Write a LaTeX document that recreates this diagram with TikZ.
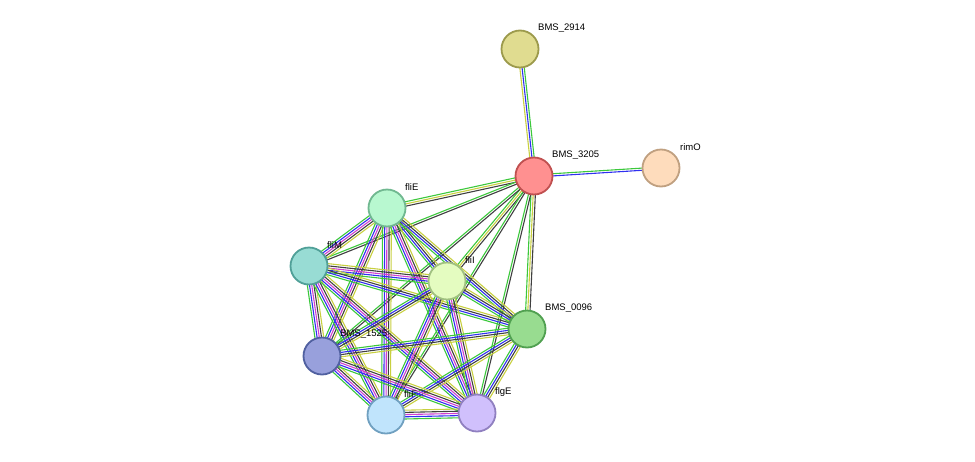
\documentclass[tikz,border=0pt]{standalone}
\usepackage{fontspec}
\setmainfont{Liberation Sans}
\usetikzlibrary{calc}
\definecolor{eg}{HTML}{3CC83C}
\definecolor{eb}{HTML}{3030F0}
\definecolor{em}{HTML}{D040D0}
\definecolor{ek}{HTML}{404040}
\definecolor{ey}{HTML}{C8D040}
\tikzset{
  prot/.style={circle,draw,line width=1.8pt,minimum size=37pt,inner sep=0pt},
  lab/.style={anchor=west,inner sep=0pt,font=\fontsize{9.5}{11}\selectfont},
}
\newcommand{\E}[3]{\foreach \o/\c in {#3}{\draw[\c,line width=1.1pt] ($(#1)!\o pt!90:(#2)$) -- ($(#2)!\o pt!-90:(#1)$);}}
\newcommand{\Full}[2]{\E{#1}{#2}{-4.4/eg,-2.2/eb,0/em,2.2/ek,4.4/ey}}
\newcommand{\Mid}[2]{\E{#1}{#2}{-3.3/eg,-1.1/eb,1.1/ek,3.3/ey}}
\newcommand{\Low}[2]{\E{#1}{#2}{-2.2/eg,0/ey,2.2/ek}}
\begin{document}
\begin{tikzpicture}[x=1pt,y=-1pt]
\useasboundingbox (0,0) rectangle (975,461);
\coordinate (n2914) at (520,49);
\coordinate (n3205) at (534,176);
\coordinate (rimO) at (661,168);
\coordinate (fliE) at (387,208);
\coordinate (fliM) at (309,266);
\coordinate (fliI) at (447,281);
\coordinate (n0096) at (527,329);
\coordinate (n1525) at (322,356);
\coordinate (fliF) at (386,415);
\coordinate (flgE) at (477,413);
% edges
\E{n3205}{n2914}{-2.2/eg,0/eb,2.2/ey}
\E{n3205}{rimO}{-1.1/eb,1.1/eg}
\Low{n3205}{fliE}
\E{n3205}{fliM}{-1.1/eg,1.1/ek}
\Low{n3205}{fliI}
\Low{n3205}{n0096}
\E{n3205}{n1525}{-1.1/eg,1.1/ek}
\E{n3205}{fliF}{-1.1/eg,1.1/ek}
\E{n3205}{flgE}{-1.1/eg,1.1/ek}
\Full{fliE}{fliM}
\Mid{fliE}{fliI}
\Mid{fliE}{n0096}
\Full{fliE}{n1525}
\Full{fliE}{fliF}
\Full{fliE}{flgE}
\Full{fliM}{fliI}
\Mid{fliM}{n0096}
\Full{fliM}{n1525}
\Full{fliM}{fliF}
\Full{fliM}{flgE}
\Mid{fliI}{n0096}
\Mid{fliI}{n1525}
\Full{fliI}{fliF}
\Full{fliI}{flgE}
\Mid{n0096}{n1525}
\Mid{n0096}{fliF}
\Mid{n0096}{flgE}
\Full{n1525}{fliF}
\Full{n1525}{flgE}
\Full{fliF}{flgE}
% nodes
\node[prot,fill={rgb,255:red,224;green,220;blue,144},draw={rgb,255:red,156;green,154;blue,76}] (c2914) at (n2914) {};
\node[prot,fill={rgb,255:red,255;green,144;blue,144},draw={rgb,255:red,192;green,80;blue,80}] (c3205) at (n3205) {};
\node[prot,fill={rgb,255:red,254;green,220;blue,188},draw={rgb,255:red,192;green,160;blue,128}] (crimO) at (rimO) {};
\node[prot,fill={rgb,255:red,184;green,248;blue,208},draw={rgb,255:red,112;green,184;blue,144}] (cfliE) at (fliE) {};
\node[prot,fill={rgb,255:red,152;green,220;blue,212},draw={rgb,255:red,80;green,160;blue,152}] (cfliM) at (fliM) {};
\node[prot,fill={rgb,255:red,228;green,252;blue,192},draw={rgb,255:red,160;green,192;blue,128}] (cfliI) at (fliI) {};
\node[prot,fill={rgb,255:red,152;green,220;blue,144},draw={rgb,255:red,80;green,160;blue,80}] (c0096) at (n0096) {};
\node[prot,fill={rgb,255:red,152;green,160;blue,220},draw={rgb,255:red,80;green,96;blue,160}] (c1525) at (n1525) {};
\node[prot,fill={rgb,255:red,192;green,228;blue,252},draw={rgb,255:red,112;green,160;blue,192}] (cfliF) at (fliF) {};
\node[prot,fill={rgb,255:red,208;green,192;blue,252},draw={rgb,255:red,144;green,128;blue,192}] (cflgE) at (flgE) {};
% labels
\node[lab] (l2914) at (538,28) {BMS\_2914};
\node[lab] (l3205) at (552,155) {BMS\_3205};
\node[lab] (lrimO) at (680,147) {rimO};
\node[lab] (lfliE) at (405,187) {fliE};
\node[lab] (lfliM) at (327,245) {fliM};
\node[lab] (lfliI) at (465,260) {fliI};
\node[lab] (l0096) at (545,308) {BMS\_0096};
\node[lab] (l1525) at (340,334) {BMS\_1525};
\node[lab] (lfliF) at (404,394) {fliF};
\node[lab] (lflgE) at (495,392) {flgE};
\end{tikzpicture}
\end{document}
